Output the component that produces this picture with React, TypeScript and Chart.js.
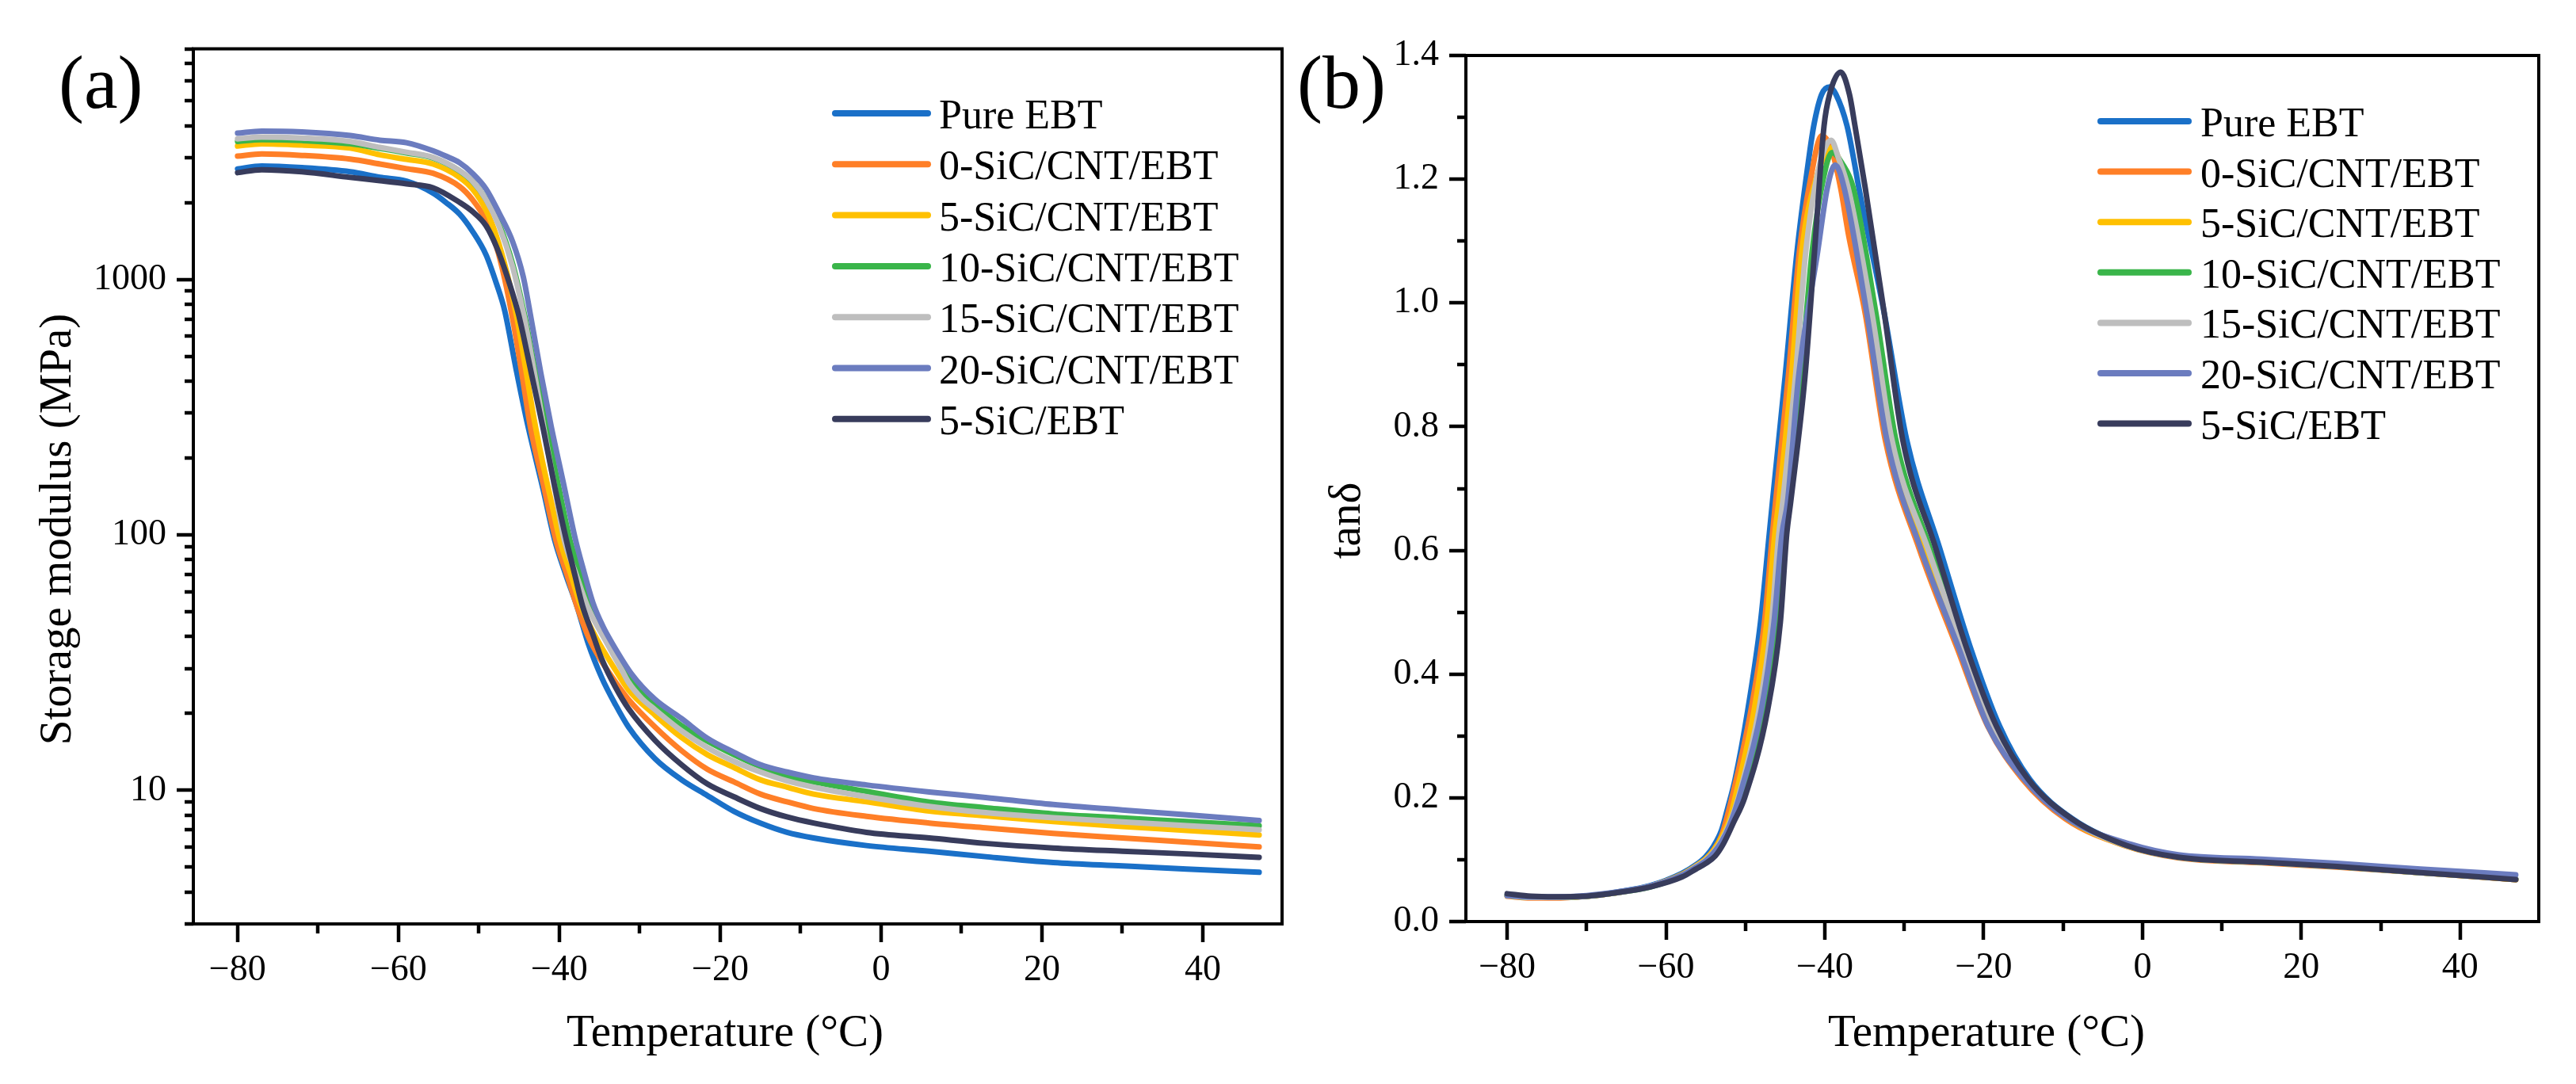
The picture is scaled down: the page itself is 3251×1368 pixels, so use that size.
import React, { useEffect, useRef } from 'react';
import { Chart, registerables } from 'chart.js';

Chart.register(...registerables);

const FONT = '"Liberation Serif", "Times New Roman", Times, serif';

// ---------- series meta ----------
const seriesNames = ['Pure EBT', '0-SiC/CNT/EBT', '5-SiC/CNT/EBT', '10-SiC/CNT/EBT', '15-SiC/CNT/EBT', '20-SiC/CNT/EBT', '5-SiC/EBT'];
const seriesColors = ['#1A70C8', '#FF7F27', '#FFC000', '#3AB54A', '#BEBEBE', '#6B7CBF', '#383C5C'];

// ---------- axis ticks ----------
const xMajorTicks = [-80, -60, -40, -20, 0, 20, 40];
const xMinorTicks = [-70, -50, -30, -10, 10, 30];
const yMajorTicksA = [10, 100, 1000];
const yMinorTicksA = [3, 4, 5, 6, 7, 8, 9, 20, 30, 40, 50, 60, 70, 80, 90, 200, 300, 400, 500, 600, 700, 800, 900, 2000, 3000, 4000, 5000, 6000, 7000, 8000];
const yMajorTicksB = [0, 0.2, 0.4, 0.6, 0.8, 1.0, 1.2, 1.4];
const yMinorTicksB = [0.1, 0.3, 0.5, 0.7, 0.9, 1.1, 1.3];

// ---------- panel (a): storage modulus (MPa) vs temperature (°C) ----------
const tA_pure = [-80, -77, -72, -66, -62.3, -59, -55.7, -54.1, -52.4, -50.8, -49.1, -47.8, -46.8, -45.4, -44.1, -42, -40.6, -39.2, -37.8, -36.4, -34.7, -33, -31.4, -28.1, -24.8, -21.6, -18.3, -15, -11.7, -8.4, -1.8, 6, 13, 21.4, 30, 38, 47];
const eA_pure = [2710, 2780, 2740, 2640, 2512, 2425, 2180, 2004, 1803, 1545, 1247, 960, 757, 450, 285, 150, 96, 70, 52.5, 37.5, 27.5, 21.6, 17.7, 13.3, 11.0, 9.55, 8.28, 7.44, 6.85, 6.51, 6.08, 5.78, 5.5, 5.22, 5.06, 4.92, 4.78];

const tA_0 = [-80, -77, -72, -66, -62.3, -59, -55.7, -52.4, -50.8, -49.1, -47.8, -46.8, -45.7, -44.6, -43.6, -42, -40.4, -39, -37.8, -36.4, -35, -33, -31.4, -28.1, -24.8, -21.6, -18.3, -15, -11.7, -8.4, -1.8, 6, 13, 21.4, 30, 38, 47];
const eA_0 = [3040, 3100, 3060, 2960, 2831, 2715, 2605, 2312, 2054, 1699, 1340, 1007, 673, 418, 265, 158, 94.6, 69, 52.5, 40, 33, 26.5, 22.7, 17.7, 14.3, 12.1, 10.8, 9.67, 9.02, 8.49, 7.91, 7.45, 7.13, 6.78, 6.51, 6.27, 6.01];

const tA_5 = [-80, -77, -72, -66, -62.3, -59, -55.7, -52.4, -50.8, -49.1, -47.8, -46.5, -45.2, -44.2, -43.1, -42.1, -41, -39.9, -38.6, -37.3, -35.5, -33, -31.4, -28.1, -24.8, -21.6, -18.3, -15, -11.7, -8.4, -1.8, 6, 13, 21.4, 30, 38, 47];
const eA_5 = [3330, 3400, 3360, 3270, 3076, 2955, 2831, 2512, 2260, 1866, 1473, 1057, 690, 450, 280, 194, 135, 94.6, 70.5, 52.5, 40, 29.5, 24.7, 19.7, 16.1, 13.8, 12.3, 11.0, 10.3, 9.67, 9.02, 8.3, 7.95, 7.55, 7.22, 6.97, 6.69];

const tA_10 = [-80, -77, -72, -66, -62.3, -59, -55.7, -52.4, -50.8, -49.1, -47.5, -45.8, -44.3, -43.0, -41.6, -40.1, -38.7, -37.4, -36.1, -34, -31.4, -29.8, -28.1, -24.8, -21.6, -18.3, -15, -11.7, -8.4, -1.8, 6, 13, 21.4, 30, 38, 47];
const eA_10 = [3470, 3530, 3500, 3400, 3260, 3130, 2990, 2660, 2420, 2060, 1650, 1150, 720, 440, 265, 155, 96, 71, 52.5, 39.5, 28.2, 24.4, 21.7, 17.9, 15.6, 13.8, 12.4, 11.4, 10.8, 9.91, 9.0, 8.55, 8.09, 7.8, 7.55, 7.27];

const tA_15 = [-80, -77, -72, -66, -62.3, -59, -55.7, -52.4, -50.8, -49.1, -47.5, -45.8, -44.4, -43.1, -41.9, -40.6, -39.4, -38, -36.5, -34.3, -32.2, -31.4, -29.8, -28.1, -24.8, -21.6, -18.3, -15, -11.7, -8.4, -1.8, 6, 13, 21.4, 30, 38, 47];
const eA_15 = [3550, 3610, 3580, 3470, 3290, 3150, 3006, 2667, 2425, 2054, 1622, 1120, 720, 430, 260, 155, 96, 71.3, 52.5, 38.8, 29.5, 26.5, 23.0, 20.7, 17.1, 14.7, 13.0, 11.8, 10.9, 10.3, 9.44, 8.65, 8.18, 7.81, 7.53, 7.28, 7.01];

const tA_20 = [-80, -77, -72, -66, -62.3, -59, -55.7, -54.1, -52.4, -50.8, -49.1, -47.5, -45.8, -44.5, -43.5, -42.3, -41, -39.5, -38, -37, -35.8, -34.6, -33.5, -31, -28.1, -24.8, -21.6, -18.3, -15, -11.7, -8.4, -1.8, 6, 13, 21.4, 30, 38, 47];
const eA_20 = [3740, 3810, 3780, 3660, 3510, 3430, 3190, 3040, 2866, 2605, 2260, 1824, 1405, 1030, 700, 430, 265, 160, 96, 73, 54, 44, 38, 28.5, 22.7, 19.1, 16.0, 14.1, 12.6, 11.8, 11.2, 10.5, 9.86, 9.38, 8.8, 8.38, 8.02, 7.62];

const tA_s = [-80, -77, -72, -66, -62.3, -59, -55.7, -52.4, -50.8, -49.1, -47.8, -46.5, -45.2, -44.8, -43.4, -42, -40.6, -39.1, -38.1, -37.1, -35.8, -34.7, -33, -31.4, -28.1, -24.8, -21.6, -18.3, -15, -11.7, -8.4, -1.8, 6, 13, 21.4, 30, 38, 47];
const eA_s = [2620, 2690, 2640, 2510, 2438, 2370, 2286, 2004, 1845, 1622, 1340, 1031, 757, 673, 418, 260, 156, 94.6, 70.3, 52.5, 40.5, 32.5, 25.3, 20.9, 15.7, 12.6, 10.6, 9.44, 8.49, 7.87, 7.45, 6.85, 6.51, 6.2, 5.95, 5.78, 5.64, 5.47];

// ---------- panel (b): tan delta vs temperature (°C) ----------
const tB_pure = [-80, -77, -74, -70, -66, -62, -58, -56.2, -55, -54, -53, -52.2, -51.3, -49.7, -48.1, -47.0, -46.6, -45.0, -43.5, -42.0, -41.4, -40.4, -39.4, -38.6, -37.2, -36.4, -35.7, -32.5, -29.7, -25.5, -21.7, -18.0, -14.2, -8.8, -1.8, 4.5, 15, 24.5, 35, 47];
const vB_pure = [0.043, 0.039, 0.039, 0.041, 0.048, 0.058, 0.078, 0.092, 0.105, 0.122, 0.148, 0.185, 0.230, 0.342, 0.484, 0.626, 0.678, 0.881, 1.083, 1.235, 1.286, 1.337, 1.349, 1.337, 1.286, 1.235, 1.185, 0.982, 0.779, 0.602, 0.444, 0.316, 0.230, 0.166, 0.123, 0.104, 0.096, 0.089, 0.080, 0.068];

const tB_0 = [-80, -77, -74, -70, -66, -62, -58, -56.2, -55, -54, -53, -51.7, -49.3, -47.6, -46.6, -46.2, -44.6, -43.2, -41.8, -40.4, -39.2, -38.0, -37.0, -34.9, -32.4, -28.1, -23.4, -19.5, -15.1, -9.7, -2.3, 4.5, 15, 24.5, 35, 47];
const vB_0 = [0.041, 0.038, 0.038, 0.041, 0.047, 0.057, 0.076, 0.090, 0.101, 0.116, 0.139, 0.200, 0.342, 0.484, 0.626, 0.678, 0.881, 1.083, 1.200, 1.270, 1.250, 1.185, 1.109, 0.982, 0.779, 0.602, 0.444, 0.316, 0.230, 0.166, 0.123, 0.103, 0.095, 0.088, 0.079, 0.068];

const tB_5 = [-80, -77, -74, -70, -66, -62, -58, -56.2, -55, -54, -53, -52, -51.3, -48.9, -47.3, -46.3, -45.8, -44.2, -42.9, -41.0, -39.1, -38.3, -37.3, -34.3, -31.8, -27.3, -22.8, -18.9, -14.8, -9.4, -2.2, 4.5, 15, 24.5, 35, 47];
const vB_5 = [0.042, 0.039, 0.039, 0.041, 0.047, 0.057, 0.076, 0.090, 0.101, 0.115, 0.136, 0.165, 0.200, 0.342, 0.484, 0.626, 0.678, 0.881, 1.083, 1.205, 1.251, 1.235, 1.185, 0.982, 0.779, 0.602, 0.444, 0.316, 0.230, 0.166, 0.123, 0.104, 0.096, 0.089, 0.079, 0.068];

const tB_10 = [-80, -77, -74, -70, -66, -62, -58, -56.2, -55, -54, -53, -52, -50.6, -47.8, -46.2, -45.3, -44.8, -43.0, -41.6, -40.2, -39.1, -37.8, -36.4, -33.55, -31.06, -26.7, -22.4, -18.6, -14.6, -9.1, -2.0, 4.5, 15, 24.5, 35, 47];
const vB_10 = [0.042, 0.039, 0.039, 0.041, 0.047, 0.056, 0.074, 0.087, 0.097, 0.109, 0.127, 0.152, 0.200, 0.342, 0.484, 0.626, 0.678, 0.881, 1.083, 1.200, 1.243, 1.225, 1.185, 0.982, 0.779, 0.602, 0.444, 0.316, 0.230, 0.166, 0.123, 0.104, 0.096, 0.089, 0.079, 0.069];

const tB_15 = [-80, -77, -74, -70, -66, -62, -58, -56.2, -55, -54, -53, -52, -50.9, -48.3, -46.7, -45.8, -45.3, -43.7, -42.4, -40.8, -39.2, -38.3, -37.05, -34.05, -31.56, -27.0, -22.6, -18.7, -14.6, -9.2, -2.1, 4.5, 15, 24.5, 35, 47];
const vB_15 = [0.042, 0.039, 0.039, 0.041, 0.047, 0.057, 0.075, 0.089, 0.099, 0.112, 0.131, 0.158, 0.200, 0.342, 0.484, 0.626, 0.678, 0.881, 1.083, 1.215, 1.263, 1.235, 1.185, 0.982, 0.779, 0.602, 0.444, 0.316, 0.230, 0.166, 0.123, 0.104, 0.096, 0.089, 0.079, 0.069];

const tB_20 = [-80, -77, -74, -70, -66, -62, -58, -56.2, -55, -54, -53, -52, -50.8, -48.0, -46.4, -45.4, -44.7, -43.3, -40.9, -39.7, -38.7, -37.55, -34.7, -32.2, -27.9, -23.2, -19.45, -14.9, -9.4, -1.5, 4.5, 15, 24.5, 35, 47];
const vB_20 = [0.042, 0.040, 0.040, 0.042, 0.048, 0.057, 0.075, 0.088, 0.098, 0.111, 0.129, 0.155, 0.200, 0.342, 0.484, 0.626, 0.678, 0.881, 1.083, 1.185, 1.223, 1.185, 0.982, 0.779, 0.602, 0.444, 0.316, 0.230, 0.166, 0.125, 0.108, 0.101, 0.094, 0.085, 0.0756];

const tB_s = [-80, -77, -74, -70, -66, -62, -58, -56.2, -55, -53.8, -52.8, -51.5, -50.1, -47.2, -45.6, -44.8, -44.3, -42.5, -41.3, -40.1, -39.4, -38.0, -36.9, -36.2, -34.9, -32.5, -30.2, -26.0, -22.2, -18.4, -14.4, -8.9, -2, 4.5, 15, 24.5, 35, 47];
const vB_s = [0.045, 0.041, 0.040, 0.041, 0.047, 0.056, 0.072, 0.085, 0.094, 0.106, 0.125, 0.160, 0.200, 0.342, 0.484, 0.626, 0.678, 0.881, 1.083, 1.286, 1.337, 1.373, 1.337, 1.286, 1.185, 0.982, 0.779, 0.602, 0.444, 0.316, 0.230, 0.166, 0.123, 0.104, 0.096, 0.089, 0.079, 0.068];

const panelA_T = [tA_pure, tA_0, tA_5, tA_10, tA_15, tA_20, tA_s];
const panelA_V = [eA_pure, eA_0, eA_5, eA_10, eA_15, eA_20, eA_s];
const panelB_T = [tB_pure, tB_0, tB_5, tB_10, tB_15, tB_20, tB_s];
const panelB_V = [vB_pure, vB_0, vB_5, vB_10, vB_15, vB_20, vB_s];

const fmtX = (v: number) => (v < 0 ? '\u2212' + Math.abs(v) : String(v));

function buildDatasets(T: number[][], V: number[][]) {
  return seriesNames.map((name, i) => ({
    label: name,
    data: T[i].map((t, j) => ({ x: t, y: V[i][j] })),
    borderColor: seriesColors[i],
    backgroundColor: seriesColors[i],
    borderWidth: 7,
    pointRadius: 0,
    fill: false,
    cubicInterpolationMode: 'monotone' as const,
    borderCapStyle: 'round' as const,
    borderJoinStyle: 'round' as const,
    order: seriesNames.length - 1 - i,
  }));
}

const framePlugin = {
  id: 'frame',
  afterDatasetsDraw(chart: any, _args: any, o: any) {
    const { ctx, chartArea: a } = chart;
    const xs = chart.scales.x;
    const ys = chart.scales.y;
    ctx.save();
    ctx.strokeStyle = '#000';
    ctx.lineWidth = 4;
    ctx.strokeRect(a.left, a.top, a.right - a.left, a.bottom - a.top);
    ctx.beginPath();
    ctx.lineWidth = 4.5;
    o.xMajor.forEach((v: number) => { const p = Math.round(xs.getPixelForValue(v)); ctx.moveTo(p, a.bottom); ctx.lineTo(p, a.bottom + 23); });
    o.xMinor.forEach((v: number) => { const p = Math.round(xs.getPixelForValue(v)); ctx.moveTo(p, a.bottom); ctx.lineTo(p, a.bottom + 12); });
    o.yMajor.forEach((v: number) => { const p = Math.round(ys.getPixelForValue(v)); ctx.moveTo(a.left, p); ctx.lineTo(a.left - 21, p); });
    o.yMinor.forEach((v: number) => { const p = Math.round(ys.getPixelForValue(v)); ctx.moveTo(a.left, p); ctx.lineTo(a.left - 11, p); });
    ctx.stroke();

    // legend
    ctx.font = `52px ${FONT}`;
    ctx.fillStyle = '#000';
    ctx.textAlign = 'left';
    ctx.textBaseline = 'alphabetic';
    chart.data.datasets.forEach((ds: any, i: number) => {
      const y = o.legend.top + i * o.legend.step;
      ctx.beginPath();
      ctx.strokeStyle = ds.borderColor;
      ctx.lineWidth = 8;
      ctx.lineCap = 'round';
      ctx.moveTo(o.legend.x0, y);
      ctx.lineTo(o.legend.x1, y);
      ctx.stroke();
      ctx.fillText(ds.label, o.legend.tx, y + 19);
    });

    // axis titles
    ctx.fillStyle = '#000';
    ctx.font = `57px ${FONT}`;
    ctx.textAlign = 'center';
    ctx.fillText(o.xTitle.text, o.xTitle.x, o.xTitle.y);
    ctx.save();
    ctx.translate(o.yTitle.x, o.yTitle.y);
    ctx.rotate(-Math.PI / 2);
    ctx.fillText(o.yTitle.text, 0, 0);
    ctx.restore();

    // panel letter
    ctx.font = `96px ${FONT}`;
    ctx.textAlign = 'left';
    ctx.fillText(o.letter.text, o.letter.x, o.letter.y);
    ctx.restore();
  },
};

function makeConfig(p: any) {
  return {
    type: 'line',
    data: { datasets: buildDatasets(p.T, p.V) },
    plugins: [framePlugin],
    options: {
      responsive: false,
      animation: false,
      events: [],
      layout: { padding: p.padding },
      scales: {
        x: {
          type: 'linear',
          min: p.xMin,
          max: p.xMax,
          grid: { display: false, drawTicks: false },
          border: { display: false },
          afterFit: (s: any) => { s.height = p.xAxisH; },
          afterBuildTicks: (s: any) => { s.ticks = xMajorTicks.map((v) => ({ value: v })); },
          ticks: {
            color: '#000',
            font: { family: FONT, size: 46 },
            padding: 31,
            maxRotation: 0,
            autoSkip: false,
            callback: (v: any) => fmtX(Number(v)),
          },
        },
        y: {
          type: p.yType,
          min: p.yMin,
          max: p.yMax,
          grid: { display: false, drawTicks: false },
          border: { display: false },
          afterFit: (s: any) => { s.width = p.yAxisW; },
          afterBuildTicks: (s: any) => { s.ticks = p.yMajor.map((v: number) => ({ value: v })); },
          ticks: {
            color: '#000',
            font: { family: FONT, size: 46 },
            padding: 34,
            autoSkip: false,
            callback: p.yFmt,
          },
        },
      },
      plugins: {
        legend: { display: false },
        tooltip: { enabled: false },
        frame: {
          xMajor: xMajorTicks,
          xMinor: xMinorTicks,
          yMajor: p.yMajor,
          yMinor: p.yMinor,
          legend: p.legend,
          xTitle: p.xTitle,
          yTitle: p.yTitle,
          letter: p.letter,
        },
      },
    },
  } as any;
}

const W_A = 1625;
const W_B = 1626;
const H = 1368;

export default function App() {
  const refA = useRef<HTMLCanvasElement>(null);
  const refB = useRef<HTMLCanvasElement>(null);

  useEffect(() => {
    const cfgA = makeConfig({
      T: panelA_T,
      V: panelA_V,
      padding: { left: 0, right: W_A - 1618, top: 59, bottom: 0 },
      xMin: -85.5,
      xMax: 49.85,
      xAxisH: H - 1166,
      yType: 'logarithmic',
      yMin: 3,
      yMax: 8000,
      yAxisW: 244,
      yMajor: yMajorTicksA,
      yMinor: yMinorTicksA,
      yFmt: (v: any) => String(v),
      legend: { x0: 1054, x1: 1171, tx: 1185, top: 143, step: 64.3 },
      xTitle: { text: 'Temperature (\u00B0C)', x: 915, y: 1320 },
      yTitle: { text: 'Storage modulus (MPa)', x: 89, y: 668 },
      letter: { text: '(a)', x: 74, y: 136 },
    });
    const cfgB = makeConfig({
      T: panelB_T,
      V: panelB_V,
      padding: { left: 0, right: 47, top: 70, bottom: 0 },
      xMin: -85.2,
      xMax: 49.9,
      xAxisH: H - 1163,
      yType: 'linear',
      yMin: 0,
      yMax: 1.4,
      yAxisW: 1850 - W_A,
      yMajor: yMajorTicksB,
      yMinor: yMinorTicksB,
      yFmt: (v: any) => Number(v).toFixed(1),
      legend: { x0: 1026, x1: 1137, tx: 1152, top: 153, step: 63.6 },
      xTitle: { text: 'Temperature (\u00B0C)', x: 882, y: 1320 },
      yTitle: { text: 'tan\u03B4', x: 91, y: 657 },
      letter: { text: '(b)', x: 12, y: 136 },
    });
    const a = new Chart(refA.current as HTMLCanvasElement, cfgA);
    const b = new Chart(refB.current as HTMLCanvasElement, cfgB);
    return () => {
      a.destroy();
      b.destroy();
    };
  }, []);

  return (
    <div style={{ position: 'absolute', left: 0, top: 0, width: W_A + W_B, height: H, background: '#fff', overflow: 'hidden' }}>
      <canvas ref={refA} width={W_A} height={H} style={{ position: 'absolute', left: 0, top: 0, width: W_A, height: H, display: 'block' }} />
      <canvas ref={refB} width={W_B} height={H} style={{ position: 'absolute', left: W_A, top: 0, width: W_B, height: H, display: 'block' }} />
    </div>
  );
}
